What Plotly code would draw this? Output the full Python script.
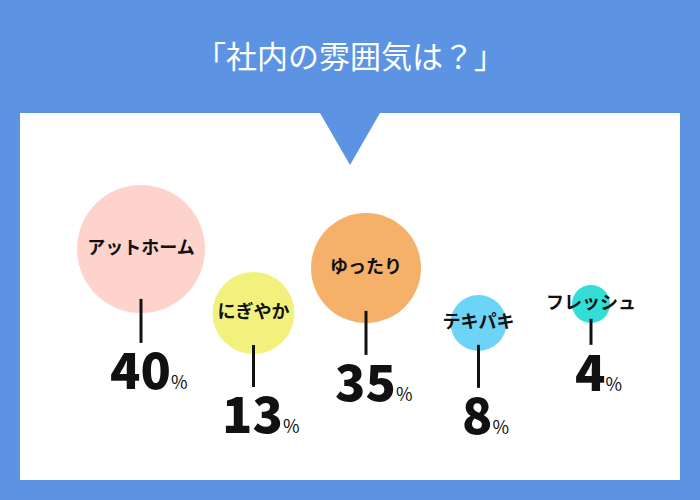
import plotly.graph_objects as go

# ---- data ----
categories = ["アットホーム", "にぎやか", "ゆったり", "テキパキ", "フレッシュ"]
values = [40, 13, 35, 8, 4]
title_text = "「社内の雰囲気は？」"

# ---- layout / style (not data) ----
bubble_colors = ["#FDD3CB", "#F3F17E", "#F5B16A", "#6CD4F6", "#33DED6"]
bubble_diam = [128, 82, 110, 56, 38]          # px
bubble_y = [249, 313, 268, 323, 304]          # px from top
stem_len = [44, 42, 44, 43, 26]
BG = "#5C94E3"
FONT = "Noto Sans CJK JP"
W, H = 700, 500

fig = go.Figure()

# stems (from inside circle downward)
lx, ly = [], []
for c, y, d, L in zip(categories, bubble_y, bubble_diam, stem_len):
    top = y + 0.39 * d
    lx += [c, c, None]
    ly += [top, top + L, None]

fig.add_trace(go.Scatter(
    x=categories, y=bubble_y, mode="markers+text",
    marker=dict(size=bubble_diam, sizemode="diameter", color=bubble_colors,
                line=dict(width=0), opacity=1),
    text=categories, textposition="middle center",
    textfont=dict(family=FONT, size=18, color="#111111", weight="bold"),
    hoverinfo="skip", showlegend=False, cliponaxis=False,
))
fig.add_trace(go.Scatter(
    x=lx, y=ly, mode="lines", line=dict(color="#111111", width=3),
    hoverinfo="skip", showlegend=False,
))

annotations = []
for c, v, y, d, L in zip(categories, values, bubble_y, bubble_diam, stem_len):
    bottom = y + 0.39 * d + L
    annotations.append(dict(
        x=c, y=bottom + 27, xref="x", yref="y", xanchor="center", yanchor="middle",
        xshift=7, yshift=3, showarrow=False,
        text=f"{v}<span style='font-size:18px;font-weight:400'>%</span>",
        font=dict(family=FONT, size=50, color="#111111", weight=900),
    ))
annotations.append(dict(
    x=0.5, y=1 - 55 / H, xref="paper", yref="paper", xanchor="center", yanchor="middle",
    showarrow=False, text=title_text,
    font=dict(family=FONT, size=31, color="#FFFFFF", weight=400),
))

shapes = [
    dict(type="rect", xref="paper", yref="paper", layer="below",
         x0=20 / W, x1=680 / W, y0=1 - 480 / H, y1=1 - 113 / H,
         fillcolor="#FFFFFF", line=dict(width=0)),
    dict(type="path", xref="paper", yref="paper", layer="below",
         path=f"M {320 / W},{1 - 113 / H} L {380 / W},{1 - 113 / H} L {350 / W},{1 - 165 / H} Z",
         fillcolor=BG, line=dict(width=0)),
]

step = 112.5
x0 = 141
fig.update_layout(
    width=W, height=H, margin=dict(l=0, r=0, t=0, b=0),
    paper_bgcolor=BG, plot_bgcolor="rgba(0,0,0,0)",
    xaxis=dict(type="category", categoryorder="array", categoryarray=categories,
               range=[-x0 / step, (W - x0) / step], visible=False, fixedrange=True),
    yaxis=dict(range=[H, 0], visible=False, fixedrange=True),
    shapes=shapes, annotations=annotations, showlegend=False,
)

fig.write_html("out.html", config={"displayModeBar": False},
               post_script="document.body.style.margin='0';document.body.style.overflow='hidden';")
